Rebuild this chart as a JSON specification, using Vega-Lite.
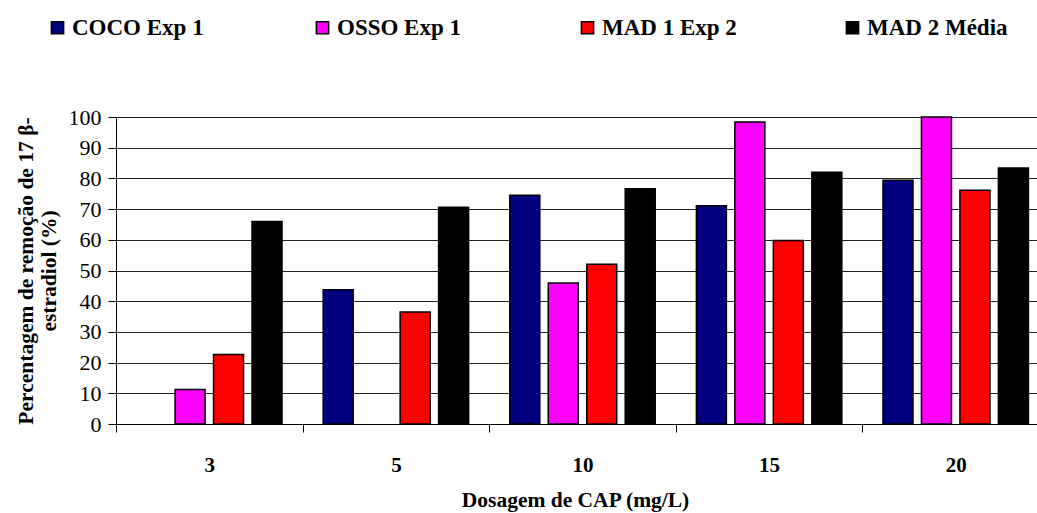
{
  "$schema": "https://vega.github.io/schema/vega-lite/v6.json",
  "autosize": {"type": "none"},
  "width": 933,
  "height": 307,
  "padding": {"left": 116, "top": 117, "right": 0, "bottom": 89},
  "background": "white",
  "config": {
    "view": {"stroke": null},
    "font": "Liberation Serif"
  },
  "data": {
    "values": [
      {"dose": "3", "serie": "OSSO Exp 1", "valor": 11.2},
      {"dose": "3", "serie": "MAD 1 Exp 2", "valor": 22.6},
      {"dose": "3", "serie": "MAD 2 Média", "valor": 66.0},
      {"dose": "5", "serie": "COCO Exp 1", "valor": 43.7},
      {"dose": "5", "serie": "MAD 1 Exp 2", "valor": 36.5},
      {"dose": "5", "serie": "MAD 2 Média", "valor": 70.6},
      {"dose": "10", "serie": "COCO Exp 1", "valor": 74.5},
      {"dose": "10", "serie": "OSSO Exp 1", "valor": 45.9},
      {"dose": "10", "serie": "MAD 1 Exp 2", "valor": 52.0},
      {"dose": "10", "serie": "MAD 2 Média", "valor": 76.6},
      {"dose": "15", "serie": "COCO Exp 1", "valor": 71.1},
      {"dose": "15", "serie": "OSSO Exp 1", "valor": 98.4},
      {"dose": "15", "serie": "MAD 1 Exp 2", "valor": 59.8},
      {"dose": "15", "serie": "MAD 2 Média", "valor": 82.0},
      {"dose": "20", "serie": "COCO Exp 1", "valor": 79.4},
      {"dose": "20", "serie": "OSSO Exp 1", "valor": 100},
      {"dose": "20", "serie": "MAD 1 Exp 2", "valor": 76.1},
      {"dose": "20", "serie": "MAD 2 Média", "valor": 83.4}
    ]
  },
  "mark": {"type": "bar", "stroke": "black", "strokeWidth": 1.5},
  "encoding": {
    "x": {
      "field": "dose",
      "type": "ordinal",
      "sort": ["3", "5", "10", "15", "20"],
      "scale": {"paddingInner": 0, "paddingOuter": 0},
      "axis": {
        "title": "Dosagem de CAP (mg/L)",
        "titleFont": "Liberation Serif",
        "titleFontSize": 21.5,
        "titleFontWeight": "bold",
        "titleColor": "black",
        "titlePadding": 14,
        "titleX": 459,
        "labelAngle": 0,
        "labelFont": "Liberation Serif",
        "labelFontSize": 21,
        "labelFontWeight": "bold",
        "labelColor": "black",
        "labelPadding": 22,
        "tickBand": "extent",
        "tickSize": 8,
        "tickColor": "black",
        "domainColor": "black",
        "grid": false
      }
    },
    "xOffset": {
      "field": "serie",
      "type": "nominal",
      "sort": ["COCO Exp 1", "OSSO Exp 1", "MAD 1 Exp 2", "MAD 2 Média"],
      "scale": {"paddingInner": 0.22, "paddingOuter": 0.535}
    },
    "y": {
      "field": "valor",
      "type": "quantitative",
      "scale": {"domain": [0, 100], "nice": false},
      "axis": {
        "title": ["Percentagem de remoção de 17 β-", "estradiol  (%)"],
        "titleFont": "Liberation Serif",
        "titleFontSize": 21.5,
        "titleFontWeight": "bold",
        "titleColor": "black",
        "titlePadding": 8,
        "titleLineHeight": 23,
        "values": [0, 10, 20, 30, 40, 50, 60, 70, 80, 90, 100],
        "labelFont": "Liberation Serif",
        "labelFontSize": 22,
        "labelColor": "black",
        "labelPadding": 7,
        "tickSize": 8,
        "tickColor": "black",
        "domainColor": "black",
        "grid": true,
        "gridColor": "#222",
        "gridWidth": 1
      }
    },
    "color": {
      "field": "serie",
      "type": "nominal",
      "scale": {
        "domain": ["COCO Exp 1", "OSSO Exp 1", "MAD 1 Exp 2", "MAD 2 Média"],
        "range": ["#000080", "#FF00FF", "#FF0000", "#000000"]
      },
      "legend": {
        "title": null,
        "orient": "none",
        "direction": "horizontal",
        "legendX": -70,
        "legendY": -101,
        "columns": 4,
        "gridAlign": "all",
        "columnPadding": 98,
        "symbolType": "square",
        "symbolSize": 150,
        "symbolStrokeColor": "black",
        "symbolStrokeWidth": 1.5,
        "symbolOpacity": 1,
        "labelFont": "Liberation Serif",
        "labelFontSize": 23,
        "labelFontWeight": "bold",
        "labelColor": "black",
        "labelOffset": 3,
        "labelLimit": 300
      }
    }
  }
}
